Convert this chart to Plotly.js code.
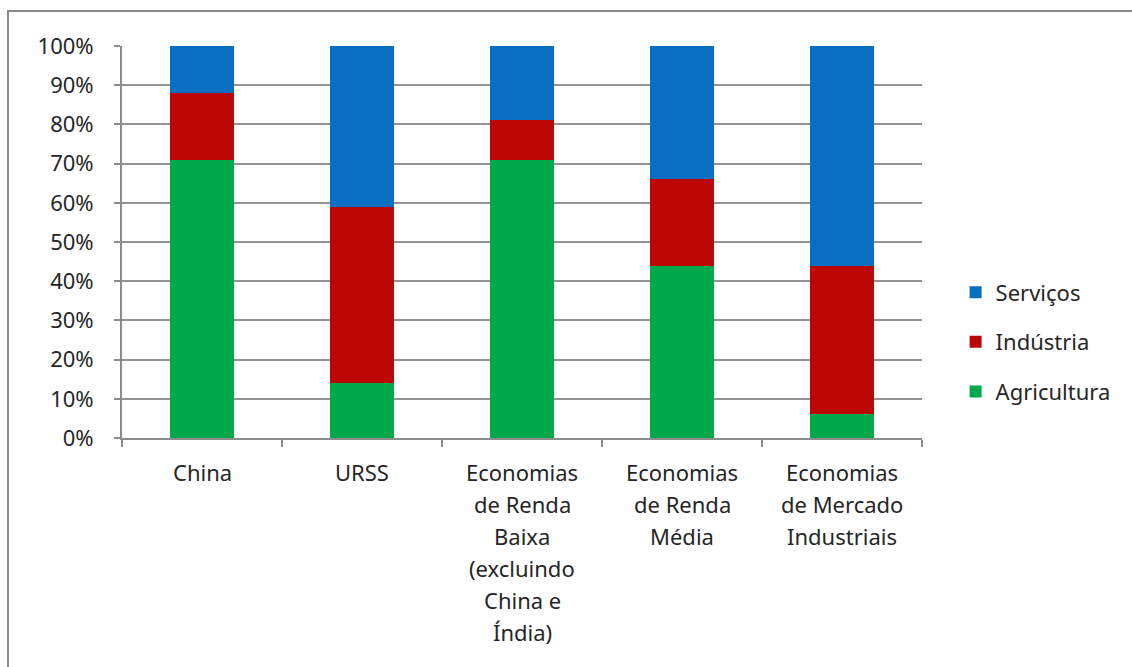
<!DOCTYPE html>
<html>
<head>
<meta charset="utf-8">
<script src="https://cdn.plot.ly/plotly-3.0.1.min.js"></script>
<style>
  html, body { margin: 0; padding: 0; background: #ffffff; }
  #chart { width: 1132px; height: 667px; }
</style>
</head>
<body>
<div id="chart"></div>
<script>
// Categories (x-axis labels, line breaks as in the reference)
const categories = [
  "China",
  "URSS",
  "Economias<br>de Renda<br>Baixa<br>(excluindo<br>China e<br>Índia)",
  "Economias<br>de Renda<br>Média",
  "Economias<br>de Mercado<br>Industriais"
];
const categoryKeys = ["China", "URSS", "Renda Baixa", "Renda Média", "Mercado Industriais"];

// Series values (% of employment)
const agricultura = [71, 14, 71, 44, 6];
const industria   = [17, 45, 10, 22, 38];
const servicos    = [12, 41, 19, 34, 56];

const seriesNames = ["Agricultura", "Indústria", "Serviços"];
const legendRanks = [3, 2, 1];
const barColors = ["#00A84C", "#BC0606", "#0A6FC2"];

const yTickVals = [0, 10, 20, 30, 40, 50, 60, 70, 80, 90, 100];
const yTickText = yTickVals.map(v => v + "%");

const FONT = "Noto Sans, Open Sans, sans-serif";
const TEXT_COLOR = "#262626";

const seriesData = [agricultura, industria, servicos];
const traces = seriesData.map((vals, i) => ({
  type: "bar",
  name: seriesNames[i],
  x: categoryKeys,
  y: vals,
  width: 0.4,
  legendgroup: "g" + i,
  legendrank: legendRanks[i],
  marker: { color: barColors[i], line: { width: 0 } },
  hoverinfo: "skip"
}));

// Multi-line category labels as annotations (to match Excel line spacing)
const annotations = [];
categories.forEach((lab, ci) => {
  lab.split("<br>").forEach((line, li) => {
    annotations.push({
      x: categoryKeys[ci], xref: "x",
      y: 0, yref: "paper",
      yanchor: "middle", xanchor: "center",
      yshift: -34 - li * 32,
      text: line, showarrow: false,
      font: { family: FONT, size: 22, color: TEXT_COLOR }
    });
  });
});

const layout = {
  width: 1132, height: 667,
  margin: { l: 122, r: 210, t: 46, b: 229, pad: 0 },
  paper_bgcolor: "#ffffff",
  plot_bgcolor: "#ffffff",
  barmode: "stack",
  bargap: 0.6,
  showlegend: true,
  font: { family: FONT, size: 22, color: TEXT_COLOR },
  legend: {
    x: 1.042, xanchor: "left",
    y: 0.245, yanchor: "middle",
    traceorder: "grouped",
    tracegroupgap: 18,
    font: { family: FONT, size: 22, color: TEXT_COLOR },
    bgcolor: "rgba(0,0,0,0)",
    itemwidth: 30
  },
  xaxis: {
    type: "category",
    showticklabels: false,
    showgrid: false,
    showline: true, linecolor: "#8c8c8c", linewidth: 2,
    ticks: "outside", tickson: "boundaries", ticklen: 7, tickwidth: 2, tickcolor: "#8c8c8c",
    zeroline: false,
    fixedrange: true
  },
  yaxis: {
    range: [0, 100],
    tickvals: yTickVals,
    ticktext: yTickText,
    showgrid: true, gridcolor: "#939393", gridwidth: 2,
    showline: true, linecolor: "#8c8c8c", linewidth: 2,
    ticks: "outside", ticklen: 6, tickwidth: 2, tickcolor: "#8c8c8c",
    ticklabelstandoff: 16,
    zeroline: false,
    tickfont: { family: FONT, size: 22, color: TEXT_COLOR },
    fixedrange: true
  },
  annotations: annotations,
  shapes: [{
    type: "rect", xref: "paper", yref: "paper",
    x0: -0.1425, x1: 1.30, y0: -0.62, y1: 1.0893,
    line: { color: "#8a8a8a", width: 2 },
    fillcolor: "rgba(0,0,0,0)",
    layer: "below"
  }]
};

Plotly.newPlot("chart", traces, layout, { displayModeBar: false, staticPlot: true });
</script>
</body>
</html>
